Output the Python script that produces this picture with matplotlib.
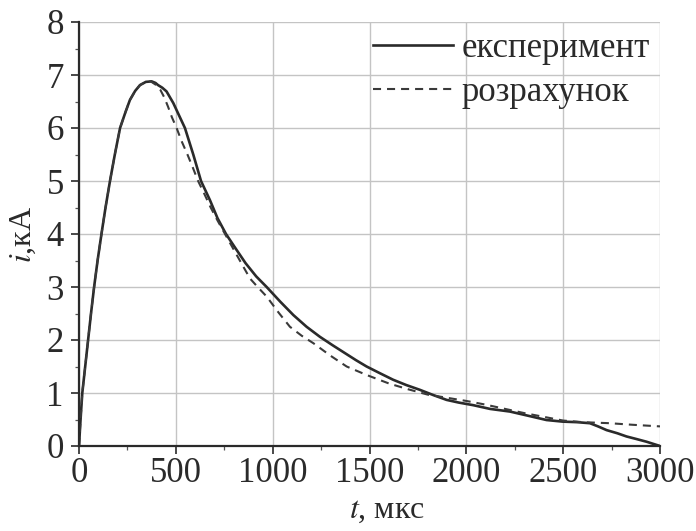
import matplotlib
matplotlib.use("Agg")
import matplotlib.pyplot as plt
from matplotlib.ticker import MultipleLocator

# Current pulse: measured vs calculated
t_exp = [0, 8, 17, 32, 47, 62, 78, 96, 116, 137, 160, 185, 212, 240, 263, 290,
         315, 345, 375, 395, 408, 430, 452, 487, 515, 547, 590, 630, 676, 715,
         759, 810, 860, 915, 969, 1040, 1107, 1175, 1244, 1310, 1370, 1430, 1485,
         1550, 1622, 1690, 1760, 1830, 1898, 1960, 2036, 2122, 2225, 2320, 2414,
         2497, 2570, 2638, 2680, 2724, 2780, 2827, 2880, 2931, 3000]
i_exp = [0, 0.5, 1.0, 1.5, 2.0, 2.5, 3.0, 3.5, 4.0, 4.5, 5.0, 5.5, 6.0, 6.3, 6.53,
         6.7, 6.81, 6.87, 6.88, 6.85, 6.81, 6.76, 6.69, 6.47, 6.25, 6.0, 5.5, 5.0,
         4.64, 4.3, 4.0, 3.72, 3.45, 3.2, 3.0, 2.72, 2.47, 2.25, 2.06, 1.9, 1.76,
         1.62, 1.5, 1.38, 1.25, 1.15, 1.06, 0.96, 0.87, 0.82, 0.77, 0.70, 0.65,
         0.57, 0.49, 0.46, 0.45, 0.43, 0.37, 0.30, 0.24, 0.18, 0.13, 0.08, 0.0]

t_calc = [0, 8, 17, 32, 47, 62, 78, 96, 116, 137, 160, 185, 212, 240, 263, 290,
          315, 345, 370, 395, 420, 440, 460, 480, 504, 530, 560, 588, 615, 648,
          680, 716, 754, 815, 883, 925, 969, 1030, 1089, 1150, 1210, 1300, 1382,
          1485, 1600, 1700, 1800, 1900, 2000, 2100, 2200, 2300, 2400, 2500, 2600,
          2741, 2860, 3000]
i_calc = [0, 0.5, 1, 1.5, 2, 2.5, 3, 3.5, 4, 4.5, 5, 5.5, 6, 6.3, 6.53, 6.7, 6.81,
          6.87, 6.88, 6.82, 6.72, 6.58, 6.4, 6.2, 6.0, 5.75, 5.5, 5.25, 5.0, 4.75,
          4.5, 4.25, 4.0, 3.6, 3.16, 2.99, 2.82, 2.52, 2.25, 2.08, 1.94, 1.7, 1.5,
          1.34, 1.18, 1.07, 0.97, 0.91, 0.85, 0.78, 0.70, 0.62, 0.55, 0.48, 0.45,
          0.43, 0.40, 0.37]

labels = ["експеримент", "розрахунок"]

plt.rcParams["font.family"] = ["Liberation Serif", "DejaVu Serif"]
plt.rcParams["mathtext.fontset"] = "stix"
plt.rcParams["lines.scale_dashes"] = False

fig = plt.figure(figsize=(6.96, 5.31), dpi=100)
ax = fig.add_axes([79 / 696, 1 - 446 / 531, (660 - 79) / 696, (446 - 22) / 531])

ink = "#2a2a2a"
ax.plot(t_exp, i_exp, color=ink, lw=1.9, label=labels[0])
ax.plot(t_calc, i_calc, color="#3a3a3a", lw=1.5, dashes=(5.8, 4.3), label=labels[1])

ax.set_xlim(0, 3000)
ax.set_ylim(0, 8)
ax.xaxis.set_major_locator(MultipleLocator(500))
ax.xaxis.set_minor_locator(MultipleLocator(250))
ax.yaxis.set_major_locator(MultipleLocator(1))
ax.yaxis.set_minor_locator(MultipleLocator(0.5))

ax.grid(True, which="major", color="#c4c4c4", lw=1.0)
ax.set_axisbelow(True)

for side in ("top", "right"):
    ax.spines[side].set_visible(False)
for side in ("left", "bottom"):
    ax.spines[side].set_color(ink)
    ax.spines[side].set_linewidth(1.6)

ax.tick_params(axis="both", which="major", direction="out", length=6, width=1.2,
               color=ink, labelsize=25, labelcolor=ink)
ax.tick_params(axis="x", which="major", pad=2)
ax.tick_params(axis="y", which="major", pad=5)
ax.tick_params(axis="both", which="minor", direction="out", length=3, width=0.9,
               color="#555555")

ax.set_xlabel(r"$t$, мкс", fontsize=23, color=ink)
ax.xaxis.set_label_coords(0.53, -0.118)
ax.set_ylabel(r"$i$,кА", fontsize=23, color=ink, labelpad=6)

leg = ax.legend(loc="upper right", bbox_to_anchor=(1.0, 1.0), frameon=False,
                fontsize=25, handlelength=2.3, handletextpad=0.25,
                labelspacing=0.3, borderaxespad=0.1, borderpad=0.2)
for txt in leg.get_texts():
    txt.set_color(ink)

fig.savefig("out.png", dpi=100, facecolor="white")
